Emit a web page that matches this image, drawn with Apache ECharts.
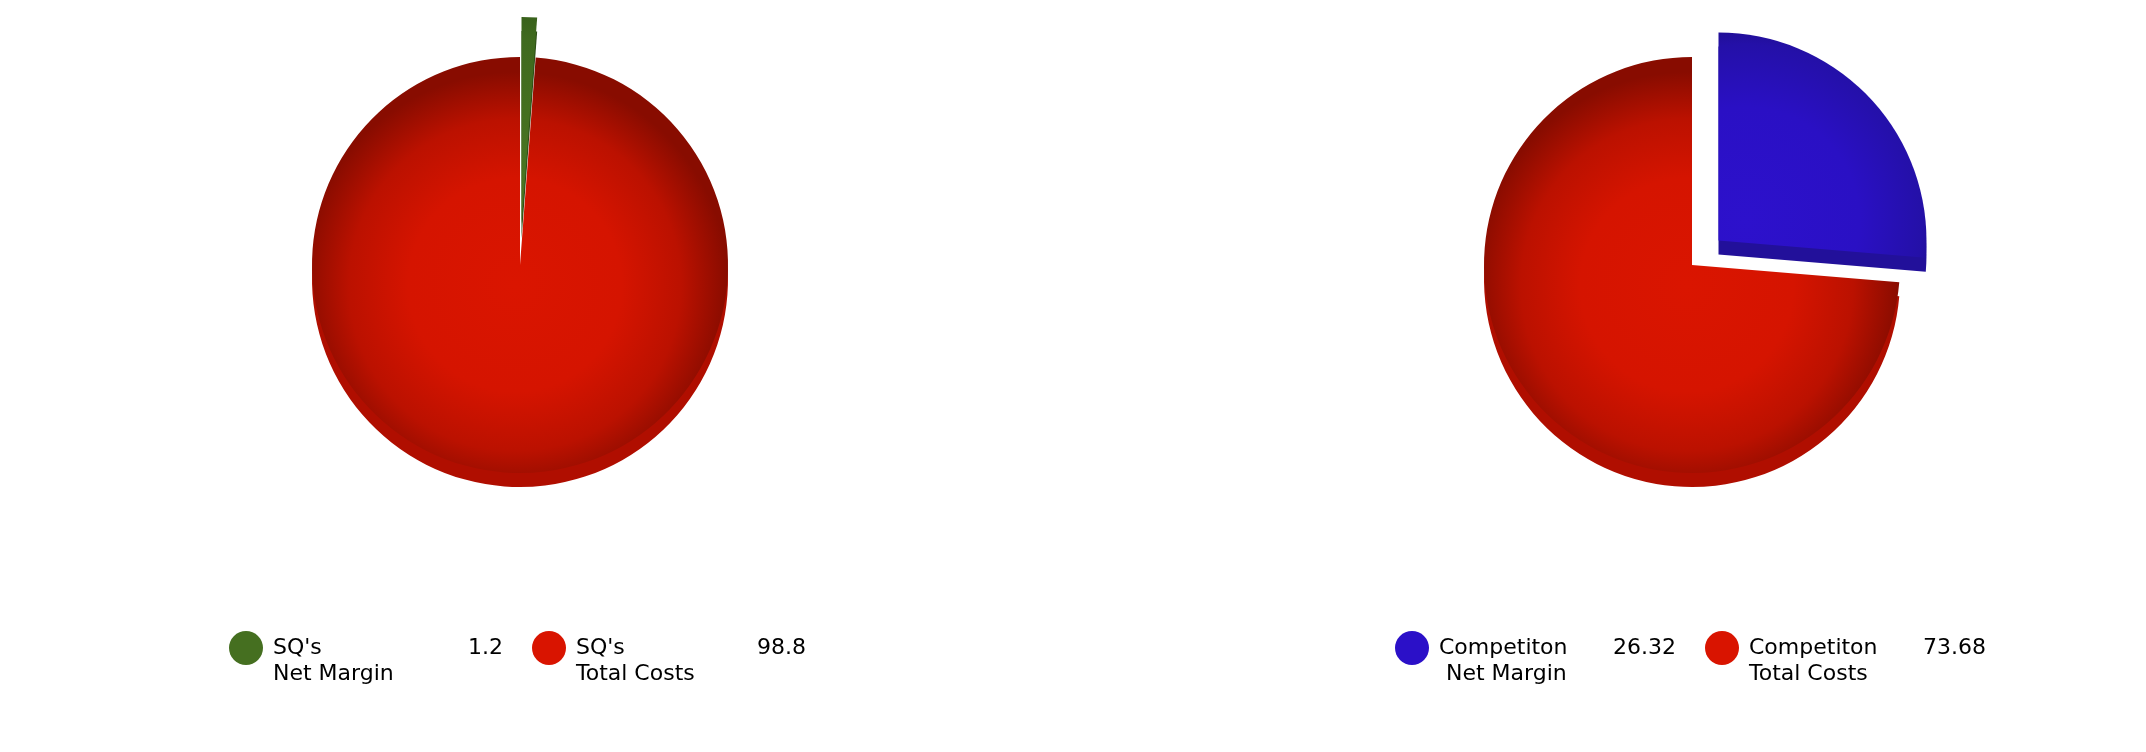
<!DOCTYPE html>
<html><head><meta charset="utf-8">
<script src="https://cdn.jsdelivr.net/npm/echarts@6/dist/echarts.min.js"></script>
<style>html,body{margin:0;padding:0;background:#fff}#c{width:2146px;height:752px}</style>
</head><body><div id="c"></div>
<script>
// ---- data ----
const leftNames = ["SQ's\nNet Margin", "SQ's\nTotal Costs"];
const leftValues = [1.2, 98.8];
const rightNames = ["Competiton\n Net Margin", "Competiton\nTotal Costs"];
const rightValues = [26.32, 73.68];

// ---- styles ----
const FONT = "'DejaVu Sans', Verdana, sans-serif";
const R = 208, DEPTH = 14, OFFSET_L = 40, OFFSET_R = 36;
const LC = [520, 265], RC = [1692, 265];
const leftSolid = ['#456f20', '#d91400'];
const rightSolid = ['#2b10c8', '#d91400'];
const leftSide = ['#2d4f16', '#b00e00'];
const rightSide = ['#22109a', '#b00e00'];

function radial(cx, cy, r, stops) {
  return { type: 'radial', x: cx, y: cy, r: r, global: true,
    colorStops: stops.map(s => ({ offset: s[0], color: s[1] })) };
}
const redStops = [[0, '#da1500'], [0.5, '#d51400'], [0.78, '#bb1100'], [1, '#880c00']];
const greenStops = [[0, '#4a7522'], [0.7, '#3f6a1e'], [1, '#2c5116']];
const blueStops = [[0, '#2d11cc'], [0.55, '#2a10c4'], [0.85, '#2410a8'], [1, '#1d0c80']];

function offsetCenter(c, values, off) {
  const total = values.reduce((a, b) => a + b, 0);
  const mid = (values[0] / total) * Math.PI;
  return [c[0] + off * Math.sin(mid), c[1] - off * Math.cos(mid)];
}
const gL = offsetCenter(LC, leftValues, OFFSET_L);
const gR = offsetCenter(RC, rightValues, OFFSET_R);

function pieData(names, values, colors) {
  return names.map((n, i) => ({ name: n, value: values[i], selected: i === 0,
    itemStyle: { color: colors[i] } }));
}
function pieSeries(center, names, values, colors, off, z) {
  return {
    type: 'pie', center: center, radius: R, startAngle: 90, clockwise: true,
    selectedMode: 'single', selectedOffset: off, silent: true, z: z,
    label: { show: false }, labelLine: { show: false },
    emphasis: { disabled: true }, select: { itemStyle: {} },
    data: pieData(names, values, colors)
  };
}

const valueOf = {};
leftNames.forEach((n, i) => valueOf[n] = leftValues[i]);
rightNames.forEach((n, i) => valueOf[n] = rightValues[i]);

function legend(names, solid, left, vW) {
  return {
    left: left, top: 626, orient: 'horizontal', itemGap: 29,
    itemWidth: 34, itemHeight: 34, icon: 'circle', selectedMode: false,
    data: names.map((n, i) => ({ name: n, itemStyle: { color: solid[i] } })),
    formatter: function (name) {
      const lines = name.split('\n');
      let s = '{n|' + lines[0] + '}{v|' + valueOf[name] + '}';
      for (let k = 1; k < lines.length; k++) s += '\n{n|' + lines[k] + '}';
      return s;
    },
    textStyle: {
      fontFamily: FONT, fontSize: 22, color: '#000', padding: [26, 0, 0, 5],
      rich: {
        n: { fontFamily: FONT, fontSize: 22, color: '#000', width: 170, lineHeight: 26 },
        v: { fontFamily: FONT, fontSize: 22, color: '#000', width: vW, align: 'right', lineHeight: 26 }
      }
    }
  };
}

const chart = echarts.init(document.getElementById('c'), null, { renderer: 'canvas' });
chart.setOption({
  animation: false,
  backgroundColor: '#fff',
  legend: [legend(leftNames, leftSolid, 224, 60), legend(rightNames, rightSolid, 1390, 67)],
  series: [
    pieSeries([LC[0], LC[1] + DEPTH], leftNames, leftValues, leftSide, OFFSET_L, 1),
    pieSeries(LC, leftNames, leftValues,
      [radial(gL[0], gL[1], R, greenStops), radial(LC[0] - 5, LC[1] + 20, R + 5, redStops)], OFFSET_L, 2),
    pieSeries([RC[0], RC[1] + DEPTH], rightNames, rightValues, rightSide, OFFSET_R, 1),
    pieSeries(RC, rightNames, rightValues,
      [radial(gR[0], gR[1] + 5, R, blueStops), radial(RC[0] - 5, RC[1] + 20, R + 5, redStops)], OFFSET_R, 2)
  ]
});
</script></body></html>
